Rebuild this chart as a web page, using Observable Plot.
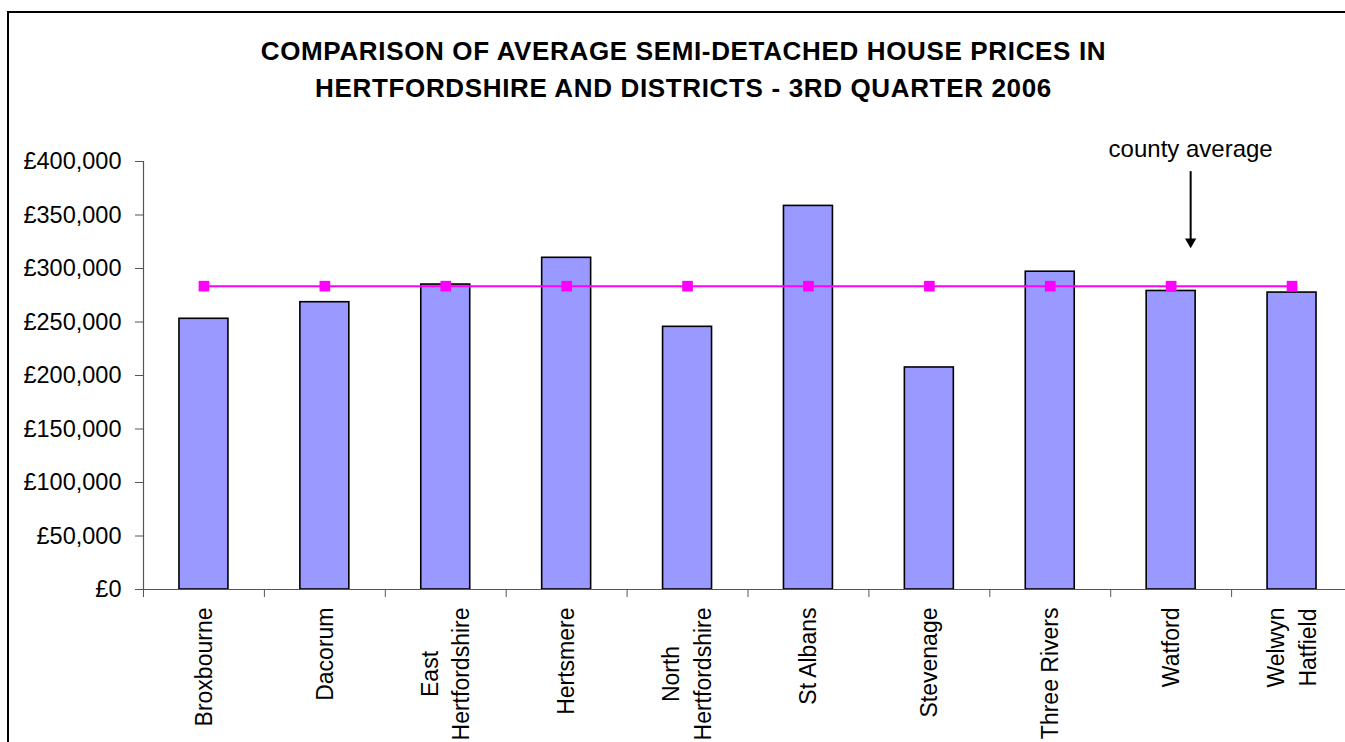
<!DOCTYPE html>
<html><head><meta charset="utf-8">
<script src="https://cdn.jsdelivr.net/npm/d3@7"></script>
<script src="https://cdn.jsdelivr.net/npm/@observablehq/plot@0.6"></script>
<style>
html,body{margin:0;padding:0;background:#fff;overflow:hidden;width:1345px;height:742px;}
#wrap{position:relative;width:1345px;height:742px;overflow:hidden;font-family:"Liberation Sans",Arial,sans-serif;}
#frame{position:absolute;left:7px;top:11px;width:1400px;height:800px;border:2px solid #000;box-sizing:border-box;}
#title{position:absolute;left:0;top:33px;width:1367px;text-align:center;font-weight:bold;font-size:26px;line-height:37px;color:#000;letter-spacing:0.65px;}
#chart{position:absolute;left:0;top:0;width:1360px;height:760px;}
#chart svg{max-width:none !important;}
</style>
</head><body>
<div id="wrap">
  <div id="frame"></div>
  <div id="chart"></div>
  <div id="title"></div>
</div>
<script>
const titleLines = ["COMPARISON OF AVERAGE SEMI-DETACHED HOUSE PRICES IN", "HERTFORDSHIRE AND DISTRICTS - 3RD QUARTER 2006"];
const districts = ["Broxbourne","Dacorum","East Hertfordshire","Hertsmere","North Hertfordshire","St Albans","Stevenage","Three Rivers","Watford","Welwyn Hatfield"];
const districtLabels = ["Broxbourne","Dacorum","East\nHertfordshire","Hertsmere","North\nHertfordshire","St Albans","Stevenage","Three Rivers","Watford","Welwyn\nHatfield"];
const prices = [253000, 268500, 285000, 310000, 245500, 358500, 207500, 297000, 279000, 277500];
const countyAverage = 283500;
const yTicks = [0, 50000, 100000, 150000, 200000, 250000, 300000, 350000, 400000];
const annotationText = "county average";
const annotationDistrict = "Watford";
const annotationTextY = 411000;
const arrowFromY = 390500;
const arrowShaftEndY = 326000;
const arrowTipY = 319000;

document.getElementById("title").innerHTML = titleLines.map(t => `<div>${t}</div>`).join("");

const data = districts.map((d, i) => ({district: d, label: districtLabels[i], price: prices[i], avg: countyAverage}));

const W = 1360, H = 760, ML = 143, MR = 8, MT = 161, MB = 171;
const step = (W - ML - MR) / districts.length;
const font = "Liberation Sans, Arial, sans-serif";
const fmt = d => "£" + d3.format(",")(d);

const chart = Plot.plot({
  width: W, height: H,
  marginLeft: ML, marginRight: MR, marginTop: MT, marginBottom: MB,
  style: {fontFamily: font, background: "transparent", overflow: "visible", color: "#000", maxWidth: "none"},
  x: {domain: districts, paddingInner: 0.595, paddingOuter: 0.2975, round: false, axis: null},
  y: {domain: [0, 400000], axis: null},
  marks: [
    Plot.barY(data, {x: "district", y: "price", fill: "#9999FF", stroke: "#000", strokeWidth: 1.6}),
    Plot.ruleY([0], {stroke: "#555", strokeWidth: 1.2}),
    Plot.frame({anchor: "left", stroke: "#555", strokeWidth: 1.2}),
    Plot.axisY({ticks: yTicks, tickSize: 8, tickPadding: 14, tickFormat: fmt, fontSize: 23.5, label: null, stroke: "#555", fill: "#000"}),
    Plot.axisX({ticks: districts, tickSize: 8, tickFormat: () => "", dx: -step / 2, label: null, stroke: "#555"}),
    Plot.text(data, {x: "district", y: () => 0, text: "label", rotate: -90, textAnchor: "end", lineAnchor: "middle", lineHeight: 1.39, fontSize: 23, dy: 18, dx: -2.5, fill: "#000"}),
    Plot.lineY(data, {x: "district", y: "avg", stroke: "#FF00FF", strokeWidth: 2}),
    Plot.dot(data, {x: "district", y: "avg", symbol: "square", fill: "#FF00FF", r: 6}),
    Plot.ruleX([annotationDistrict], {x: d => d, y1: arrowFromY, y2: arrowShaftEndY, dx: 19.5, stroke: "#000", strokeWidth: 2}),
    Plot.dot([annotationDistrict], {x: d => d, y: arrowTipY, symbol: "triangle", rotate: 180, fill: "#000", r: 4.2, dx: 19.5, dy: -6.5}),
    Plot.text([annotationText], {x: () => annotationDistrict, y: () => annotationTextY, text: d => d, fontSize: 24, dx: 19.5, fill: "#000"})
  ]
});
chart.style.maxWidth = "none";
document.getElementById("chart").appendChild(chart);

// center the lines of wrapped rotated labels within their block
chart.querySelectorAll("text").forEach(t => {
  const spans = t.querySelectorAll("tspan");
  if (spans.length > 1) {
    const lens = Array.from(spans, s => s.getComputedTextLength());
    const max = Math.max(...lens);
    spans.forEach((s, i) => s.setAttribute("x", -(max - lens[i]) / 2));
  }
});
</script>
</body></html>
